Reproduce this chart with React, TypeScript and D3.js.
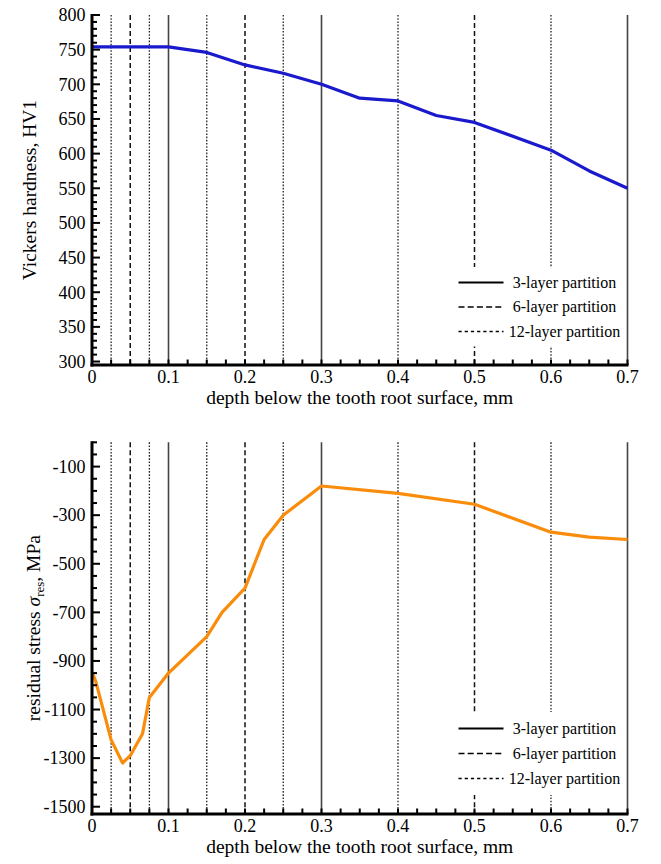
import React from "react";
import * as d3 from "d3";

// ---- data ----
const hvDepth = [0, 0.1, 0.15, 0.2, 0.25, 0.3, 0.35, 0.4, 0.45, 0.5, 0.6, 0.65, 0.7];
const hvValues = [754, 754, 746, 728, 716, 700, 680, 676, 655, 645, 605, 575, 550];

const rsDepth = [0, 0.005, 0.025, 0.04, 0.05, 0.066, 0.075, 0.1, 0.15, 0.17, 0.2, 0.225, 0.25, 0.3, 0.4, 0.5, 0.6, 0.65, 0.7];
const rsValues = [-945, -985, -1225, -1320, -1290, -1200, -1050, -950, -800, -700, -600, -400, -300, -180, -210, -255, -370, -390, -400];

const part3 = [0.1, 0.3, 0.7];
const part6 = [0.05, 0.2, 0.5];
const part12 = [0.025, 0.075, 0.15, 0.25, 0.4, 0.6];

const xTickLabels = [0, 0.1, 0.2, 0.3, 0.4, 0.5, 0.6, 0.7];
const hvTickLabels = [300, 350, 400, 450, 500, 550, 600, 650, 700, 750, 800];
const rsTickLabels = [-1500, -1300, -1100, -900, -700, -500, -300, -100];

const legendLabels = ["3-layer partition", "6-layer partition", "12-layer partition"];

const FONT = "'Liberation Serif', 'Times New Roman', serif";

const X0 = 92;
const X1 = 627.5;

type PanelProps = {
  xs: number[];
  ys: number[];
  color: string;
  yDomain: [number, number];
  yRange: [number, number];
  majorTicks: number[];
  minorStep: number;
  minorStart: number;
  minorEnd: number;
  yTitle: React.ReactNode;
  yTitleX: number;
  legendTop: number;
  legendStep: number;
  legendBox: [number, number];
};

function Panel(p: PanelProps) {
  const x = d3.scaleLinear().domain([0, 0.7]).range([X0, X1]);
  const y = d3.scaleLinear().domain(p.yDomain).range(p.yRange);
  const yBottom = p.yRange[0];
  const yTop = y(p.yDomain[1] === 0 ? 0 : p.majorTicks[p.majorTicks.length - 1]);
  const line = d3
    .line<number>()
    .x((_, i) => x(p.xs[i]))
    .y((d) => y(d));

  const xMinor = d3.range(0, 29).map((i) => i * 0.025);
  const yMinor: number[] = [];
  for (let v = p.minorStart; v <= p.minorEnd + 1e-9; v += p.minorStep) yMinor.push(v);
  const majorSet = new Set(p.majorTicks.map((v) => Math.round(v)));

  const lx1 = 458.5;
  const lx2 = 503.5;
  const ltx = 564.5;
  const midY = (p.yRange[0] + yTop) / 2;

  return (
    <g>
      {/* partition lines */}
      {part12.map((d) => (
        <line key={"p12" + d} x1={x(d)} x2={x(d)} y1={yTop} y2={yBottom} stroke="#222" strokeWidth={1.3} strokeDasharray="1.6,1.6" />
      ))}
      {part6.map((d) => (
        <line key={"p6" + d} x1={x(d)} x2={x(d)} y1={yTop} y2={yBottom} stroke="#111" strokeWidth={1.5} strokeDasharray="5,3" />
      ))}
      {/* legend box (covers lines) */}
      <rect x={455} y={p.legendBox[0]} width={169} height={p.legendBox[1] - p.legendBox[0]} fill="#fff" />
      {part3.map((d) => (
        <line key={"p3" + d} x1={x(d)} x2={x(d)} y1={yTop} y2={yBottom} stroke="#444" strokeWidth={1.6} />
      ))}
      {/* data line */}
      <path d={line(p.ys) || ""} fill="none" stroke={p.color} strokeWidth={3.2} strokeLinejoin="round" />
      {/* axes */}
      <line x1={X0} x2={X0} y1={yTop - 1} y2={yBottom + 1.5} stroke="#000" strokeWidth={3} />
      <line x1={X0 - 1.5} x2={X1 + 1} y1={yBottom} y2={yBottom} stroke="#000" strokeWidth={3} />
      {xMinor.map((d, i) => (
        <line key={"xt" + i} x1={x(d)} x2={x(d)} y1={yBottom} y2={yBottom - 5.5} stroke="#000" strokeWidth={2} />
      ))}
      {yMinor.map((v, i) => {
        const major = majorSet.has(Math.round(v));
        return (
          <line key={"yt" + i} x1={X0} x2={X0 + (major ? 8 : 5)} y1={y(v)} y2={y(v)} stroke="#000" strokeWidth={2} />
        );
      })}
      {xTickLabels.map((d) => (
        <text key={"xl" + d} x={x(d)} y={yBottom + 17.5} textAnchor="middle" fontFamily={FONT} fontSize={18} fill="#000">
          {d === 0 ? "0" : d.toFixed(1)}
        </text>
      ))}
      {p.majorTicks.map((v) => (
        <text key={"yl" + v} x={85.5} y={y(v)} dy="0.35em" textAnchor="end" fontFamily={FONT} fontSize={18} fill="#000">
          {String(v)}
        </text>
      ))}
      <text x={(X0 + X1) / 2} y={yBottom + 39} textAnchor="middle" fontFamily={FONT} fontSize={19.5} fill="#000">
        depth below the tooth root surface, mm
      </text>
      <text
        transform={`translate(${p.yTitleX},${midY}) rotate(-90)`}
        textAnchor="middle"
        fontFamily={FONT}
        fontSize={19.5}
        fill="#000"
      >
        {p.yTitle}
      </text>
      {/* legend */}
      {legendLabels.map((lab, i) => {
        const ly = p.legendTop + i * p.legendStep;
        const dash = i === 0 ? undefined : i === 1 ? "6,3.2" : "3.2,3";
        return (
          <g key={lab}>
            <line x1={lx1} x2={lx2} y1={ly} y2={ly} stroke="#000" strokeWidth={i === 0 ? 2 : 1.6} strokeDasharray={dash} />
            <text x={ltx} y={ly} dy="0.33em" textAnchor="middle" fontFamily={FONT} fontSize={16} fill="#000">
              {lab}
            </text>
          </g>
        );
      })}
    </g>
  );
}

export default function App() {
  return (
    <div style={{ position: "absolute", left: 0, top: 0, background: "#fff" }}>
      <svg width={661} height={864} viewBox="0 0 661 864" style={{ display: "block" }}>
        <rect width={661} height={864} fill="#fff" />
        <Panel
          xs={hvDepth}
          ys={hvValues}
          color="#1a1acc"
          yDomain={[295, 800]}
          yRange={[365, 15]}
          majorTicks={hvTickLabels}
          minorStep={10}
          minorStart={300}
          minorEnd={800}
          yTitle="Vickers hardness, HV1"
          yTitleX={36}
          legendTop={282.5}
          legendStep={24.5}
          legendBox={[267, 346.5]}
        />
        <Panel
          xs={rsDepth}
          ys={rsValues}
          color="#fa8c0c"
          yDomain={[-1530, 0]}
          yRange={[814, 442.3]}
          majorTicks={rsTickLabels}
          minorStep={50}
          minorStart={-1500}
          minorEnd={0}
          yTitle={
            <>
              residual stress{" "}
              <tspan fontStyle="italic">σ</tspan>
              <tspan fontSize={13} dy="4">res</tspan>
              <tspan dy="-4">, MPa</tspan>
            </>
          }
          yTitleX={40}
          legendTop={728.5}
          legendStep={25}
          legendBox={[712, 795]}
        />
      </svg>
    </div>
  );
}
